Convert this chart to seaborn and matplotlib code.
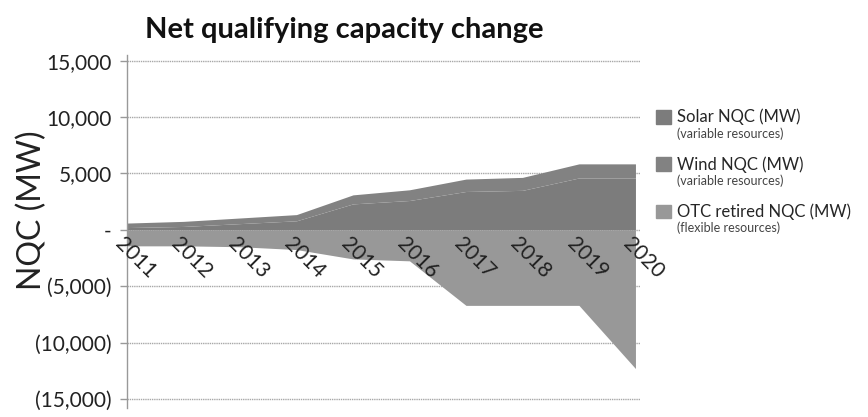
import matplotlib
matplotlib.use('Agg')
import matplotlib.pyplot as plt
import matplotlib.patches as mpatches
import seaborn as sns

years = ['2011', '2012', '2013', '2014', '2015', '2016', '2017', '2018', '2019', '2020']
solar_nqc = [200, 300, 550, 800, 2300, 2600, 3400, 3500, 4600, 4600]
wind_nqc = [400, 450, 500, 550, 800, 950, 1100, 1150, 1250, 1250]
otc_retired_nqc = [-1420, -1420, -1500, -1750, -2580, -2750, -6700, -6700, -6700, -12300]

series_names = ['Solar NQC (MW)', 'Wind NQC (MW)', 'OTC retired NQC (MW)']
series_notes = ['(variable resources)', '(variable resources)', '(flexible resources)']
series_colors = ['#7c7c7c', '#828282', '#989898']

ytick_vals = [15000, 10000, 5000, 0, -5000, -10000, -15000]
ytick_labels = ['15,000', '10,000', '5,000', '-', '(5,000)', '(10,000)', '(15,000)']

sns.set_style('white')
plt.rcParams['font.family'] = ['Lato', 'DejaVu Sans']

fig = plt.figure(figsize=(8.68, 4.17), dpi=100)
ax = fig.add_axes([0.1463, 0.0216, 0.591, 0.8464])

x = list(range(len(years)))
ax.stackplot(x, solar_nqc, wind_nqc, colors=series_colors[:2], lw=0, zorder=2)
ax.fill_between(x, otc_retired_nqc, 0, color=series_colors[2], lw=0, zorder=2)

ax.set_xlim(0, 9.08)
ax.set_ylim(-15800, 15500)
ax.set_yticks(ytick_vals)
ax.set_yticklabels(ytick_labels, fontsize=15, color='#222222')
ax.yaxis.grid(True, color='#a8a8a8', lw=1, ls=(0, (1, 0.6)), zorder=0)
ax.xaxis.grid(False)
ax.tick_params(axis='y', left=True, length=5, width=1, color='#999999', pad=6)

# year labels sit just under the zero line, slanted down to the right
ax.set_xticks([])
for xi, lab in zip(x, years):
    ax.text(xi - 0.03, -350, lab, rotation=-45, rotation_mode='anchor', ha='left', va='top',
            fontsize=15, color='#222222', zorder=5)

for side in ['top', 'right', 'bottom']:
    ax.spines[side].set_visible(False)
ax.spines['left'].set_color('#999999')
ax.spines['left'].set_linewidth(1)

ax.set_ylabel('NQC (MW)', fontsize=23, color='#222222')
ax.yaxis.set_label_coords(-0.155, 0.56)

fig.text(0.397, 0.928, 'Net qualifying capacity change', fontsize=21, fontweight='bold',
         ha='center', va='center', color='#111111')

handles = [mpatches.Patch(color=c) for c in series_colors]
leg = fig.legend(handles, series_names, loc='upper left', bbox_to_anchor=(0.748, 0.755),
                 frameon=False, fontsize=12, handlelength=0.9, handleheight=0.9,
                 handletextpad=0.35, labelspacing=1.85, borderaxespad=0)
fig.canvas.draw()
renderer = fig.canvas.get_renderer()
inv = fig.transFigure.inverted()
for txt, note in zip(leg.get_texts(), series_notes):
    bb = txt.get_window_extent(renderer)
    x0, y0 = inv.transform((bb.x0, bb.y0))
    fig.text(x0, y0 - 0.004, note, fontsize=9, color='#444444', ha='left', va='top')

fig.savefig('out.png', dpi=100)
